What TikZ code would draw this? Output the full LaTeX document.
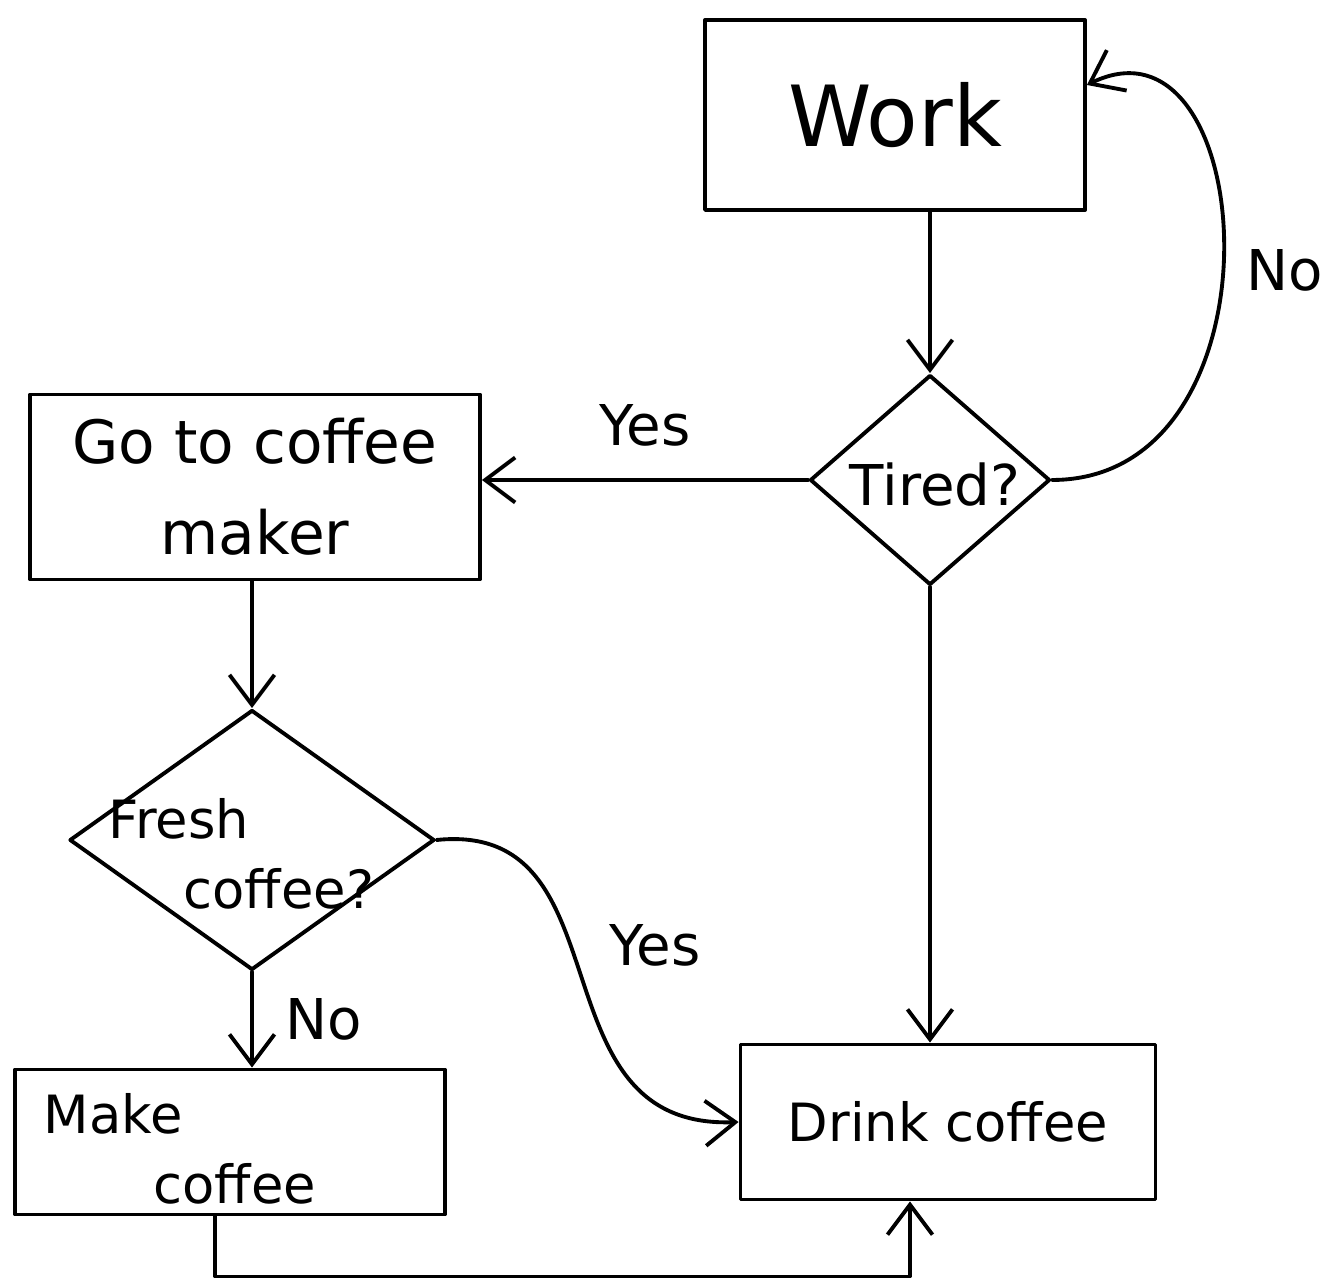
\documentclass[tikz,border=0pt]{standalone}
\usepackage{fontspec}
\setmainfont{DejaVu Sans}
\usetikzlibrary{shapes.geometric,arrows.meta}
\begin{document}
\begin{tikzpicture}[
  line width=1.1pt, line cap=round, line join=round,
  arr/.style={-{Straight Barb[length=3mm,width=4.5mm,line width=1.1pt]}},
  box/.style={draw, rectangle, inner sep=0pt},
  dec/.style={draw, diamond, inner sep=0pt},
  txt/.style={font=\fontsize{17}{26}\selectfont},
  stxt/.style={font=\fontsize{15}{20}\selectfont},
  lbl/.style={font=\fontsize{16}{20}\selectfont}
]
\useasboundingbox (0,0) rectangle (13.33,-12.85);

\node[box, minimum width=3.8cm, minimum height=1.9cm, font=\fontsize{24}{28}\selectfont] (W) at (8.95,-1.15) {Work};
\node[dec, minimum width=2.4cm, minimum height=2.1cm] (T) at (9.3,-4.8) {};
\node[font=\fontsize{16}{20}\selectfont] (Tt) at (9.35,-4.85) {Tired?};
\node[box, minimum width=4.5cm, minimum height=1.85cm, txt, align=center] (G) at (2.55,-4.87) {Go to coffee\\maker};
\node[dec, minimum width=3.65cm, minimum height=2.6cm] (F) at (2.52,-8.4) {};
\node[stxt, align=left, anchor=north west] (Ft) at (0.95,-7.85) {Fresh\\\hspace{7.5mm}coffee?};
\node[box, minimum width=4.3cm, minimum height=1.45cm] (M) at (2.3,-11.42) {};
\node[stxt, align=left, anchor=north west] (Mt) at (0.3,-10.8) {Make\\\hspace{1.1cm}coffee};
\node[box, minimum width=4.15cm, minimum height=1.55cm, stxt] (D) at (9.48,-11.22) {Drink coffee};

\draw[arr] (W.south -| T.north) -- (T.north);
\draw[arr] (T.west) -- (T.west -| G.east) node[midway, above=2mm, lbl] (y1) {Yes};
\draw[arr] (T.east) .. controls (12.9,-4.8) and (12.6,0.0) .. ([yshift=3mm]W.east);
\node[lbl] (n1) at (12.85,-2.7) {No};
\draw[arr] (T.south) -- (T.south |- D.north);
\draw[arr] (F.north |- G.south) -- (F.north);
\draw[arr] (F.south) -- (F.south |- M.north) node[midway, right=2mm, lbl] (n2) {No};
\draw[arr] (F.east) .. controls (6.3,-8.2) and (5.3,-11.3) .. (D.west);
\node[lbl] (y2) at (6.55,-9.45) {Yes};
\draw[arr] ([xshift=-1.5mm]M.south) -- ++(0,-0.6) -| ([xshift=-3.8mm]D.south);
\end{tikzpicture}
\end{document}
